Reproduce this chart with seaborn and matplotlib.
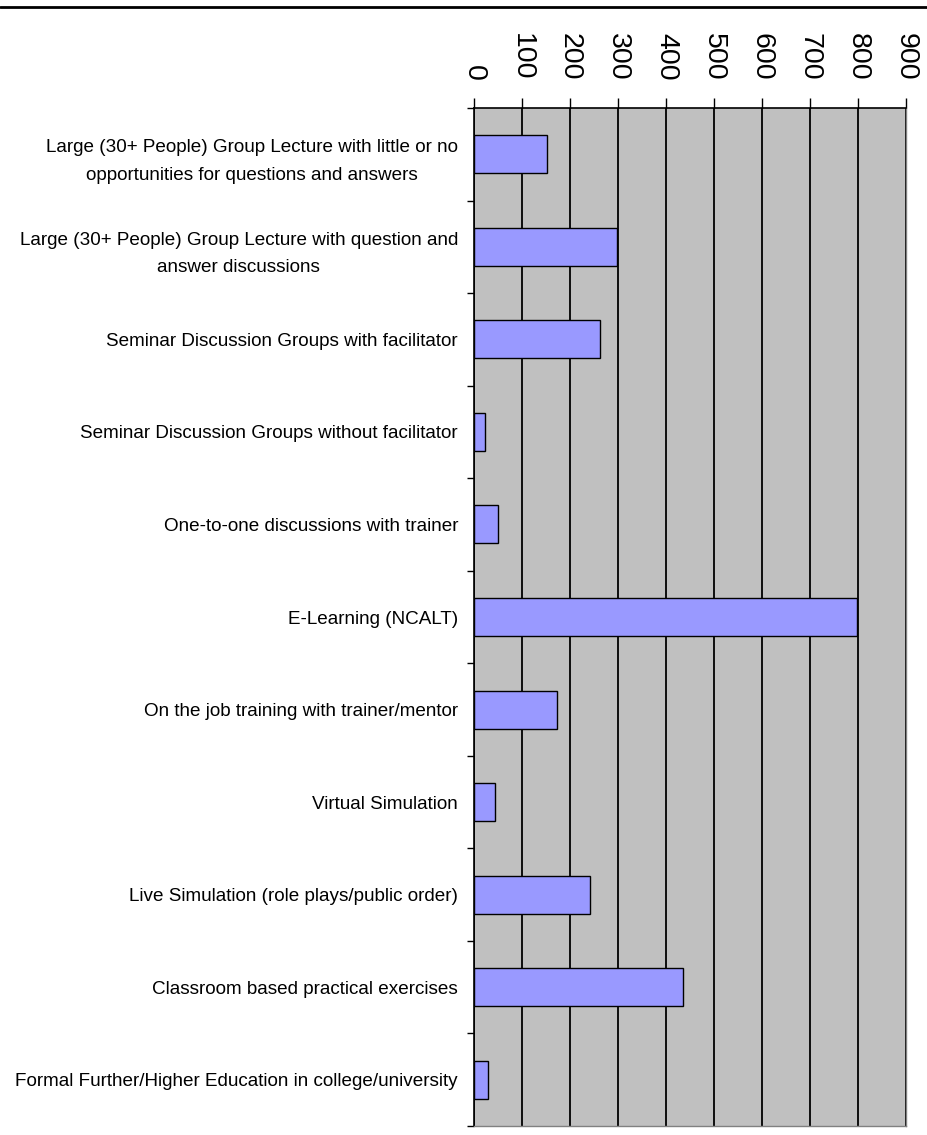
import matplotlib
matplotlib.use("Agg")
import matplotlib.pyplot as plt
import matplotlib.lines as mlines
import seaborn as sns
import pandas as pd
import numpy as np

categories = [
    "Large (30+ People) Group Lecture with little or no\nopportunities for questions and answers",
    "Large (30+ People) Group Lecture with question and\nanswer discussions",
    "Seminar Discussion Groups with facilitator",
    "Seminar Discussion Groups without facilitator",
    "One-to-one discussions with trainer",
    "E-Learning (NCALT)",
    "On the job training with trainer/mentor",
    "Virtual Simulation",
    "Live Simulation (role plays/public order)",
    "Classroom based practical exercises",
    "Formal Further/Higher Education in college/university",
]
values = [153, 298, 262, 22, 49, 797, 172, 44, 241, 436, 29]
x_ticks = [0, 100, 200, 300, 400, 500, 600, 700, 800, 900]

sns.set_style("white")
plt.rcParams['font.family'] = ['Liberation Sans', 'DejaVu Sans']
plt.rcParams['text.color'] = 'black'
plt.rcParams['xtick.labelcolor'] = 'black'
plt.rcParams['ytick.labelcolor'] = 'black'

df = pd.DataFrame({"category": categories, "value": values})

fig = plt.figure(figsize=(9.27, 11.35), dpi=100)
ax = fig.add_axes([474 / 927, 1 - 1126 / 1135, (906 - 474) / 927, (1126 - 108) / 1135])
ax.set_facecolor("#c0c0c0")

sns.barplot(data=df, x="value", y="category", orient="h", color="#9999ff",
            edgecolor="black", linewidth=1.0, width=0.41, saturation=1, ax=ax, zorder=3)

n = len(categories)
ax.set_xlim(0, 900)
ax.set_ylim(n - 0.5, -0.5)

# x axis on top
ax.xaxis.tick_top()
ax.set_xticks(x_ticks)
ax.set_xticklabels([str(t) for t in x_ticks], rotation=-90, fontsize=20.5, color="black")
ax.tick_params(axis="x", which="major", direction="out", length=7.5, width=1.0,
               color="black", pad=12, top=True, bottom=False)
for t in x_ticks:
    ax.axvline(t, color="black", linewidth=1.3, zorder=1)

# y axis
ax.set_yticks(np.arange(n))
ax.set_yticklabels(categories, fontsize=13.6, linespacing=1.8, color="black")
for lbl in ax.get_yticklabels():
    lbl.set_multialignment("center")
ax.tick_params(axis="y", which="major", length=0, pad=11.5)
ax.set_yticks(np.arange(n + 1) - 0.5, minor=True)
ax.tick_params(axis="y", which="minor", direction="out", length=5, width=1.0, color="black", left=True)

ax.set_xlabel("")
ax.set_ylabel("")

for side in ["top", "left"]:
    ax.spines[side].set_visible(True)
    ax.spines[side].set_color("black")
    ax.spines[side].set_linewidth(1.2)
for side in ["right", "bottom"]:
    ax.spines[side].set_visible(True)
    ax.spines[side].set_color("#808080")
    ax.spines[side].set_linewidth(1.0)

# top rule across the figure
fig.add_artist(mlines.Line2D([0, 1], [1 - 7 / 1135, 1 - 7 / 1135], color="black",
                             linewidth=2, transform=fig.transFigure))

fig.savefig("out.png", dpi=100)
